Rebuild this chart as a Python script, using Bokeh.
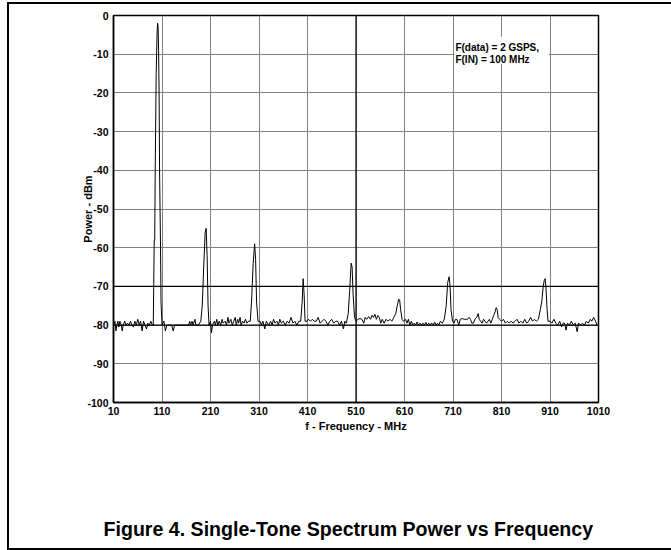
from bokeh.plotting import figure
from bokeh.models import FixedTicker, Span, Label, BoxAnnotation, ColumnDataSource, Title
from bokeh.embed import file_html
from bokeh.resources import INLINE

# ---- data ----
x_ticks = [10, 110, 210, 310, 410, 510, 610, 710, 810, 910, 1010]
y_ticks = [-100, -90, -80, -70, -60, -50, -40, -30, -20, -10, 0]
y_tick_labels = ["-100", "-90", "-80", "-70", "-60", "-50", "-40", "-30", "-20", "-10", "0"]

freq_mhz = [
    10, 13, 15, 17, 19, 21, 23, 26, 28, 30, 33, 36, 39, 42, 45, 48, 51, 54, 57, 60,
    63, 66, 69, 72, 75, 78, 81, 84, 87, 90,
    92, 94, 95, 96, 98, 100, 101, 102, 103, 104, 105, 107, 108, 110,
    114, 117, 120, 130, 133, 136, 165, 167, 169, 172, 174, 178, 180, 185, 190,
    193, 196, 199, 201, 203, 205, 207, 210, 212, 214, 218, 220, 223, 225, 228, 231,
    234, 236, 240, 243, 246, 248, 252, 255, 258, 261, 263, 266, 268, 271, 273, 276,
    279, 282, 285, 288, 292, 295, 298, 301, 303, 305, 308, 312, 315, 318, 322, 325,
    330, 334, 337, 340, 343, 347, 350, 353, 356, 360, 364, 368, 372, 376, 380, 384,
    388, 392, 396, 399, 401, 403, 405, 409, 412, 416, 420, 424, 428, 432, 436, 440,
    444, 448, 452, 456, 460, 464, 468, 472, 476, 480, 484, 487, 490, 494, 497, 500,
    502, 504, 507, 510, 514, 518, 522, 526, 529, 532, 536, 540, 543, 546, 549, 552,
    555, 558, 561, 564, 568, 572, 576, 580, 584, 588, 592, 595, 598, 600, 602, 605,
    608, 612, 615, 618, 621, 624, 627, 630, 633, 636, 639, 642, 645, 648, 651, 654,
    657, 660, 663, 666, 669, 672, 675, 678, 681, 684, 688, 692, 696, 699, 702, 704,
    706, 709, 712, 715, 718, 722, 725, 729, 733, 737, 740, 743, 746, 749, 752, 755,
    759, 762, 764, 767, 770, 773, 776, 779, 782, 785, 788, 791, 794, 797, 799, 801,
    803, 806, 810, 814, 818, 822, 826, 830, 834, 838, 842, 846, 850, 854, 858, 862,
    866, 870, 874, 878, 882, 886, 890, 893, 896, 898, 900, 902, 904, 906, 910, 914,
    918, 922, 926, 930, 934, 937, 940, 943, 946, 950, 954, 958, 962, 966, 969, 973,
    977, 981, 985, 989, 993, 996, 1000, 1004, 1007,
]
power_dbm = [
    -80, -79, -81.5, -80, -79, -80.5, -79, -80, -81.5, -80, -79, -80, -79.5, -80, -79, -80, -80.5, -79, -80, -78.5,
    -80, -79, -81.5, -79, -80, -81, -79.5, -80, -79, -80,
    -80, -58, -58, -40, -15, -4, -2, -3, -9, -20, -40, -60, -74, -80,
    -79, -81.5, -80, -80, -81.5, -80, -80, -79, -80, -79, -80, -78.5, -80, -80, -79,
    -75, -65, -56, -55, -62, -75, -80, -79, -82, -80, -79, -80, -78.5, -80, -79, -80,
    -78.5, -79.5, -79, -80, -78, -79.5, -78.5, -80, -79, -78, -80, -78.5, -79.5, -78, -80, -79,
    -79.5, -78.5, -79.5, -79, -79, -73, -64, -59, -63, -74, -79, -79, -80, -79, -81, -79,
    -80, -79, -80, -78.5, -79.5, -79, -80, -78.5, -79.5, -79, -80, -79, -79.5, -78, -79.5, -79,
    -80, -79, -79, -74, -68, -72, -79, -79, -78.5, -79, -78.5, -79, -79, -78, -79.5, -79,
    -78.5, -79, -80, -79, -78.5, -79.5, -79, -79, -80, -79, -81, -79, -79.5, -77, -71, -64,
    -65, -72, -78, -79, -78.5, -78.3, -78.5, -79.5, -78, -78.5, -77.8, -78.5, -77.5, -78, -77.2, -78.5,
    -77.5, -78, -79.5, -78.5, -79.5, -78.5, -79, -78.5, -79, -78, -77, -75, -73.3, -73.5, -76, -78.5,
    -79, -78.5, -79.5, -78.5, -80, -79, -80, -79.5, -80, -79.2, -80, -79.5, -80, -79.5, -80, -79.3,
    -80, -79.5, -80, -79.5, -80, -79.2, -80, -79.5, -80, -79, -79.5, -78.5, -75, -69, -67.5, -70,
    -76, -79, -79.5, -78.5, -78.5, -80, -78.5, -78.3, -78.5, -78.5, -78.5, -78, -78.5, -79.5, -79.5, -78.5,
    -78, -77, -78.5, -79, -79.5, -78.5, -79, -79.5, -79, -78.5, -79.5, -78.5, -77.5, -76.5, -75.5, -76,
    -78, -78.5, -79, -78.5, -79.5, -79, -79.5, -79, -79.5, -79, -78.5, -79.5, -79, -79.5, -78.5, -79.5,
    -79, -78, -79, -78.5, -79, -78.5, -76, -74, -70, -68.5, -68, -71, -76, -79, -79, -79.5,
    -78.5, -79.5, -80, -79, -80.5, -79.5, -79.5, -81.3, -79.5, -80, -79, -80, -79.5, -81.7, -79.5, -80,
    -79.5, -80, -79, -79.5, -78.5, -79, -78, -79, -80,
]

note_lines = ["F(data) = 2 GSPS,", "F(IN) = 100 MHz"]
caption = "Figure 4. Single-Tone Spectrum Power vs Frequency"

FONT = "Liberation Sans"

# figure placed at page (7, 2); spans to the window's right/bottom edges
p = figure(width=664, height=548, x_range=(10, 1010), y_range=(-100, 0),
           output_backend="svg", toolbar_location=None,
           min_border_left=106, min_border_right=73, min_border_top=13, min_border_bottom=60,
           background_fill_color="white", border_fill_color=None)
p.styles = {"margin-left": "7px", "margin-top": "2px", "background-color": "white",
            "box-shadow": "inset 2px 0 0 0 black, inset 0 2px 0 0 black, inset 0 -2px 0 0 black"}

p.outline_line_color = "black"
p.outline_line_width = 1.5

for ax in (p.xaxis[0], p.yaxis[0]):
    ax.major_tick_in = 0
    ax.major_tick_out = 0
    ax.minor_tick_in = 0
    ax.minor_tick_out = 0
    ax.axis_line_color = "black"
    ax.axis_line_width = 1.5
    ax.major_label_text_font = FONT
    ax.major_label_text_font_size = "10.5px"
    ax.major_label_text_font_style = "bold"
    ax.major_label_text_color = "black"
    ax.axis_label_text_font = FONT
    ax.axis_label_text_font_size = "11px"
    ax.axis_label_text_font_style = "bold"
    ax.axis_label_text_color = "black"
    ax.major_label_standoff = 4

p.yaxis.major_label_standoff = 5
p.xaxis.ticker = FixedTicker(ticks=x_ticks)
p.yaxis.ticker = FixedTicker(ticks=y_ticks)
p.yaxis.major_label_overrides = {t: s for t, s in zip(y_ticks, y_tick_labels)}
p.xgrid.ticker = FixedTicker(ticks=x_ticks)
p.ygrid.ticker = FixedTicker(ticks=y_ticks)
p.xaxis.axis_label = "f - Frequency - MHz"
p.yaxis.axis_label = "Power - dBm"
p.xaxis.axis_label_standoff = 2
p.yaxis.axis_label_standoff = -10

p.grid.grid_line_color = "#808080"
p.grid.grid_line_width = 1
p.grid.grid_line_alpha = 1

for loc, dim in ((510, "height"), (-70, "width"), (-80, "width")):
    p.add_layout(Span(location=loc, dimension=dim, line_color="black", line_width=1.2))

src = ColumnDataSource(dict(f=freq_mhz, pwr=power_dbm))
p.line("f", "pwr", source=src, line_color="black", line_width=1)

# annotation with white background
p.add_layout(BoxAnnotation(left=713, right=908, top=-5.5, bottom=-12.5,
                           fill_color="white", fill_alpha=1, line_alpha=0))
for i, t in enumerate(note_lines):
    p.add_layout(Label(x=715, y=-8.3 - 3.1 * i, text=t, text_font=FONT,
                       text_font_size="10px", text_font_style="bold",
                       text_baseline="middle", text_align="left", text_color="black"))

# spacer between the axis label and the caption, then the caption itself
spacer = Title(text=" ", text_font_size="1px", standoff=67)
p.add_layout(spacer, "below")
cap = Title(text=caption, align="left", offset=-10, standoff=22, vertical_align="bottom",
            text_font=FONT, text_font_size="19.6px", text_font_style="bold",
            text_color="black")
p.add_layout(cap, "below")

open("out.html", "w").write(file_html(p, INLINE))
